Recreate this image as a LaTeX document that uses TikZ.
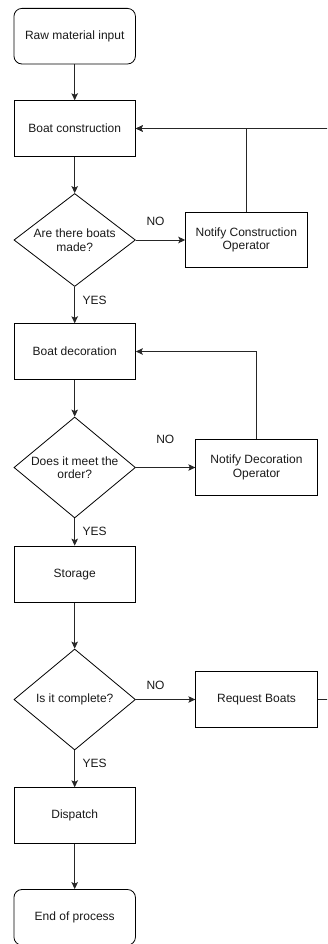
\documentclass[tikz,border=0pt]{standalone}
\usepackage{fontspec}
\setmainfont{Liberation Sans}
\usetikzlibrary{shapes.geometric,arrows.meta}
\begin{document}
\begin{tikzpicture}[x=1pt,y=-1pt,
  every node/.style={font=\fontsize{12}{13.5}\selectfont, text=black!90},
  box/.style={draw=black, line width=0.8pt, minimum width=121.5pt, minimum height=55.6pt, inner sep=0pt, align=center},
  term/.style={box, rounded corners=8pt},
  dec/.style={draw=black, line width=0.8pt, diamond, aspect=1.3, minimum width=121.5pt, inner sep=0pt, align=center},
  lbl/.style={inner sep=0pt},
  conn/.style={draw=black!85, line width=0.9pt, -{Stealth[length=7pt,width=6.5pt,inset=1.5pt]}},
  plain/.style={draw=black!85, line width=0.9pt}]
\useasboundingbox (0,0) rectangle (327,944);
\clip (0,0) rectangle (327,944);
\node[term] (raw) at (74.7,36.2) {Raw material input};
\node[box] (bc) at (74.7,128.5) {Boat construction};
\node[dec, minimum height=93pt] (d1) at (74.7,240) {Are there boats\\made?};
\node[box, minimum width=121.3pt] (nc) at (246.3,240) {Notify Construction\\Operator};
\node[box] (bd) at (74.7,351.5) {Boat decoration};
\node[dec, minimum height=101pt] (d2) at (74.7,467.5) {Does it meet the\\order?};
\node[box, minimum height=56.4pt] (nd) at (256.5,467.5) {Notify Decoration\\Operator};
\node[box, minimum height=56.3pt] (st) at (74.7,574.2) {Storage};
\node[dec, minimum height=101pt] (d3) at (74.7,699.5) {Is it complete?};
\node[box] (rb) at (256.5,699.5) {Request Boats};
\node[box] (dp) at (74.7,815.5) {Dispatch};
\node[term] (en) at (74.7,917.3) {End of process};
\node[lbl] (no1) at (155.5,221) {NO};
\node[lbl] (yes1) at (94.7,300) {YES};
\node[lbl] (no2) at (165.3,439.3) {NO};
\node[lbl] (yes2) at (94.7,531.7) {YES};
\node[lbl] (no3) at (155.5,685) {NO};
\node[lbl] (yes3) at (94.7,763) {YES};
\coordinate (far) at (345,699.5);
\draw[conn] (raw.south) -- (bc.north);
\draw[conn] (bc.south) -- (d1.north);
\draw[conn] (d1.east) -- (nc.west);
\draw[conn] (d1.south) -- (bd.north);
\draw[conn] (nc.north) |- (bc.east);
\draw[conn] (bd.south) -- (d2.north);
\draw[conn] (d2.east) -- (nd.west);
\draw[conn] (nd.north) |- (bd.east);
\draw[conn] (d2.south) -- (st.north);
\draw[conn] (st.south) -- (d3.north);
\draw[conn] (d3.east) -- (rb.west);
\draw[conn] (rb.east) -- (far) |- (bc.east);
\draw[conn] (d3.south) -- (dp.north);
\draw[conn] (dp.south) -- (en.north);
\end{tikzpicture}
\end{document}
